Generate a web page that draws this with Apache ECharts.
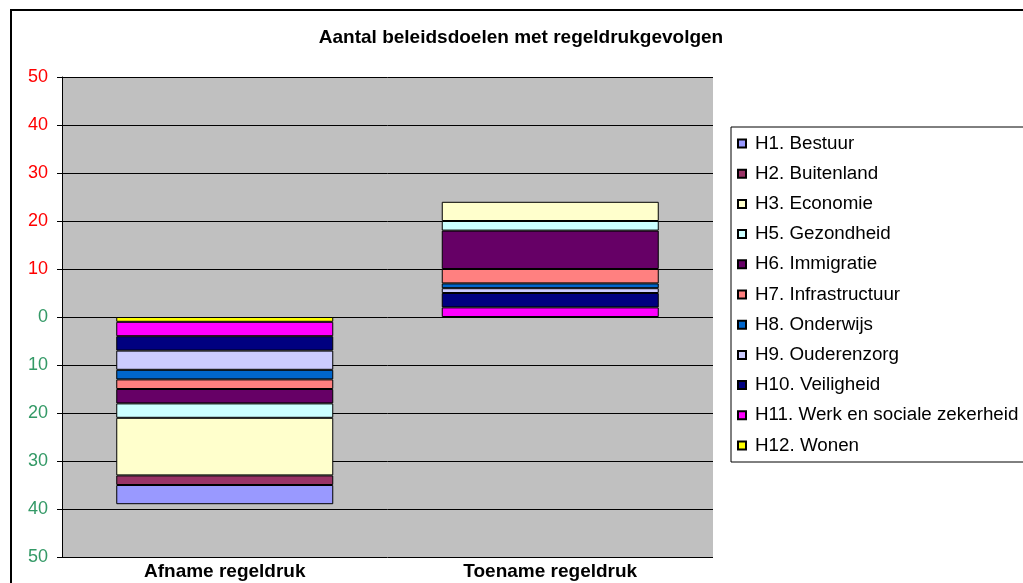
<!DOCTYPE html>
<html>
<head>
<meta charset="utf-8">
<script src="https://cdn.jsdelivr.net/npm/echarts@6/dist/echarts.min.js"></script>
<style>
html,body{margin:0;padding:0;background:#fff;}
#chart{width:1023px;height:583px;}
</style>
</head>
<body>
<div id="chart"></div>
<script>
const titleText = 'Aantal beleidsdoelen met regeldrukgevolgen';
const categories = ['Afname regeldruk', 'Toename regeldruk'];
const seriesNames = ['H1. Bestuur', 'H2. Buitenland', 'H3. Economie', 'H5. Gezondheid', 'H6. Immigratie',
  'H7. Infrastructuur', 'H8. Onderwijs', 'H9. Ouderenzorg', 'H10. Veiligheid',
  'H11. Werk en sociale zekerheid', 'H12. Wonen'];
const seriesColors = ['#9999FF', '#993366', '#FFFFCC', '#CCFFFF', '#660066',
  '#FF8080', '#0066CC', '#CCCCFF', '#000080', '#FF00FF', '#FFFF00'];
// counts per beleidsterrein (same order as seriesNames)
const afname  = [4, 2, 12, 3, 3, 2, 2, 4, 3, 3, 1];
const toename = [0, 0, 4, 2, 8, 3, 1, 1, 3, 2, 0];
const yTicks = [-50, -40, -30, -20, -10, 0, 10, 20, 30, 40, 50];

const series = [];
for (let i = seriesNames.length - 1; i >= 0; i--) {
  series.push({
    name: seriesNames[i],
    type: 'bar',
    stack: 'total',
    barWidth: 217,
    data: [afname[i] ? -afname[i] : null, toename[i] ? toename[i] : null],
    itemStyle: { color: seriesColors[i], borderColor: '#000', borderWidth: 1 },
    emphasis: { disabled: true }
  });
}

const chart = echarts.init(document.getElementById('chart'), null, { renderer: 'canvas' });
chart.setOption({
  animation: false,
  backgroundColor: '#fff',
  graphic: [
    { type: 'rect', shape: { x: 11, y: 10, width: 1100, height: 700 },
      style: { fill: 'none', stroke: '#000', lineWidth: 2 }, z: 100 },
    { type: 'text', x: 521, y: 38,
      style: { text: titleText, textAlign: 'center', textVerticalAlign: 'middle',
        font: 'bold 19px "Liberation Sans", Arial, sans-serif', fill: '#000' } }
  ],
  grid: { left: 62, top: 77, width: 651, height: 480, show: true,
    backgroundColor: '#C0C0C0', borderWidth: 0 },
  legend: {
    orient: 'vertical', left: 731, top: 127,
    padding: [7, 12, 7, 6],
    itemWidth: 8, itemHeight: 8, itemGap: 11.2,
    icon: 'rect',
    borderColor: '#000', borderWidth: 1,
    backgroundColor: '#fff',
    data: seriesNames,
    selectedMode: false,
    textStyle: { fontFamily: '"Liberation Sans", Arial, sans-serif', fontSize: 18.8,
      color: '#000', lineHeight: 18, padding: [0, 0, 0, 4] }
  },
  xAxis: {
    type: 'category',
    data: categories,
    axisLine: { show: false },
    axisTick: { show: false },
    axisLabel: { fontFamily: '"Liberation Sans", Arial, sans-serif',
      fontWeight: 'bold', fontSize: 19, color: '#000', margin: 5 }
  },
  yAxis: {
    type: 'value',
    min: yTicks[0], max: yTicks[yTicks.length - 1], interval: 10,
    axisLine: { show: true, lineStyle: { color: '#000', width: 1 } },
    axisTick: { show: true, length: 5, lineStyle: { color: '#000' } },
    splitLine: { show: true, lineStyle: { color: '#000', width: 1 } },
    axisLabel: {
      fontFamily: '"Liberation Sans", Arial, sans-serif', fontSize: 18, margin: 14,
      formatter: v => String(Math.abs(v)),
      color: v => (Number(v) > 0 ? '#FF0000' : '#339966')
    }
  },
  series: series
});
</script>
</body>
</html>
